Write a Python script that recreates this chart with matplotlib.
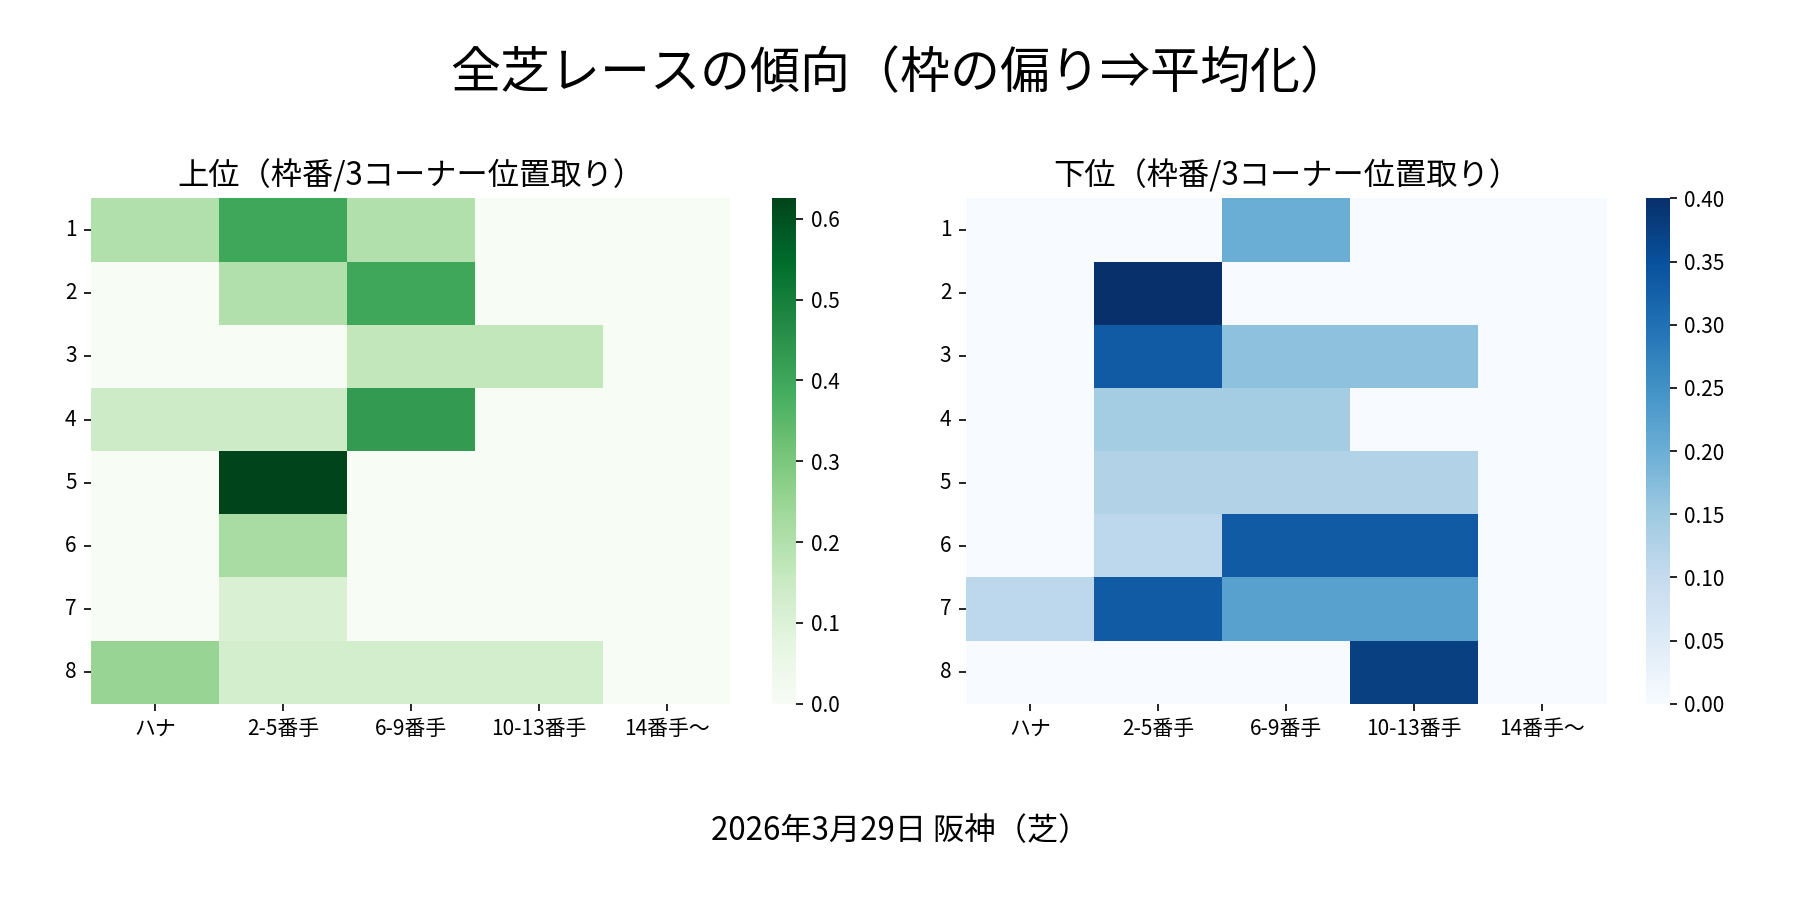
import matplotlib
matplotlib.use("Agg")
import matplotlib.pyplot as plt
import numpy as np
import pandas as pd
import seaborn as sns

plt.rcParams['font.family'] = ['Noto Sans CJK JP', 'DejaVu Sans']

waku = [1, 2, 3, 4, 5, 6, 7, 8]
positions = ['ハナ', '2-5番手', '6-9番手', '10-13番手', '14番手〜']

# 上位: 枠番ごとの3コーナー位置取りの割合
top_rates = [
    [0.200, 0.400, 0.200, 0.000, 0.000],
    [0.000, 0.200, 0.400, 0.000, 0.000],
    [0.000, 0.000, 0.167, 0.167, 0.000],
    [0.143, 0.143, 0.429, 0.000, 0.000],
    [0.000, 0.625, 0.000, 0.000, 0.000],
    [0.000, 0.222, 0.000, 0.000, 0.000],
    [0.000, 0.111, 0.000, 0.000, 0.000],
    [0.250, 0.125, 0.125, 0.125, 0.000],
]

# 下位
bottom_rates = [
    [0.000, 0.000, 0.200, 0.000, 0.000],
    [0.000, 0.400, 0.000, 0.000, 0.000],
    [0.000, 0.333, 0.167, 0.167, 0.000],
    [0.000, 0.143, 0.143, 0.000, 0.000],
    [0.000, 0.125, 0.125, 0.125, 0.000],
    [0.000, 0.111, 0.333, 0.333, 0.000],
    [0.111, 0.333, 0.222, 0.222, 0.000],
    [0.000, 0.000, 0.000, 0.375, 0.000],
]

title = '全芝レースの傾向（枠の偏り⇒平均化）'
footer = '2026年3月29日 阪神（芝）'

df_top = pd.DataFrame(top_rates, index=waku, columns=positions)
df_bottom = pd.DataFrame(bottom_rates, index=waku, columns=positions)

fig = plt.figure(figsize=(12, 6), dpi=150)

ax1 = fig.add_axes([0.0506, 0.218, 0.3552, 0.5615])
cax1 = fig.add_axes([0.4288, 0.218, 0.0135, 0.5615])
ax2 = fig.add_axes([0.5367, 0.218, 0.3558, 0.5615])
cax2 = fig.add_axes([0.9142, 0.218, 0.0135, 0.5615])

sns.heatmap(df_top, ax=ax1, cbar_ax=cax1, cmap='Greens', vmin=0)
sns.heatmap(df_bottom, ax=ax2, cbar_ax=cax2, cmap='Blues', vmin=0)

for ax, t in [(ax1, '上位（枠番/3コーナー位置取り）'), (ax2, '下位（枠番/3コーナー位置取り）')]:
    ax.set_title(t, fontsize=15)
    ax.tick_params(axis='both', labelsize=10)
    ax.set_yticklabels(ax.get_yticklabels(), rotation=0)
    ax.set_xticklabels(ax.get_xticklabels(), rotation=0)

for cax in [cax1, cax2]:
    cax.tick_params(labelsize=10)

fig.text(0.5, 0.917, title, ha='center', va='center', fontsize=24)
fig.text(0.5, 0.077, footer, ha='center', va='center', fontsize=15)

fig.savefig('out.png', dpi=150)
